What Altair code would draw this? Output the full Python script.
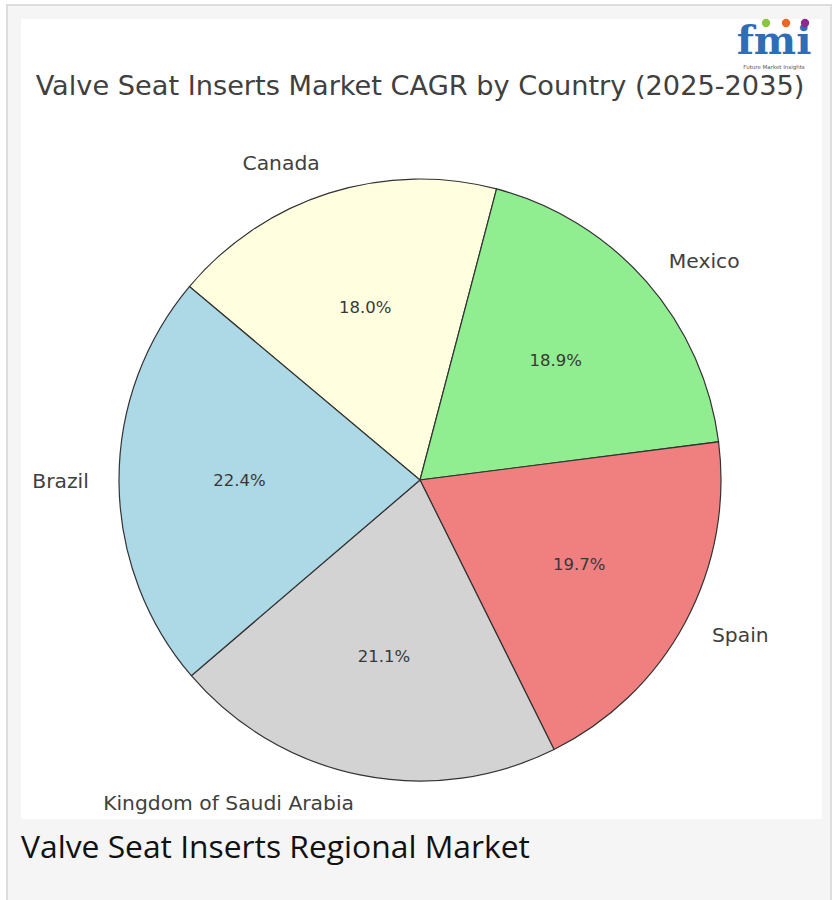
import math
import altair as alt
import pandas as pd

countries = ["Canada", "Mexico", "Spain", "Kingdom of Saudi Arabia", "Brazil"]
shares = [18.0, 18.9, 19.7, 21.1, 22.4]
colors = ["#FFFFE0", "#90EE90", "#F08080", "#D3D3D3", "#ADD8E6"]
title_text = "Valve Seat Inserts Market CAGR by Country (2025-2035)"
caption_text = "Valve Seat Inserts Regional Market"

W, H = 838, 900
CX, CY, R = 420, 480, 301
START = math.radians(310)  # first wedge starts here (clockwise from 12 o'clock)

df = pd.DataFrame({"country": countries, "share": shares, "ord": list(range(len(countries)))})
one = pd.DataFrame({"a": [0]})

base = alt.Chart(df).transform_joinaggregate(
    total="sum(share)"
).transform_window(
    cum="sum(share)", sort=[alt.SortField("ord")], frame=[None, 0]
).transform_calculate(
    mid=f"(datum.cum - datum.share/2)/datum.total*2*PI + {START}",
    pct="format(datum.share, '.1f') + '%'",
).transform_calculate(
    left_lab="sin(datum.mid) < 0 ? datum.country : ''",
    right_lab="sin(datum.mid) >= 0 ? datum.country : ''",
)

theta = alt.Theta("share:Q", stack=True,
                  scale=alt.Scale(range=[START, START + 2 * math.pi]))
order = alt.Order("ord:Q", sort="ascending")
pos = dict(x=alt.value(CX), y=alt.value(CY))

arcs = base.mark_arc(radius=R, stroke="#333333", strokeWidth=1.2).encode(
    theta=theta, order=order,
    color=alt.Color("country:N", scale=alt.Scale(domain=countries, range=colors), legend=None),
    **pos,
)

pct = base.mark_text(radius=R * 0.6, font="DejaVu Sans", fontSize=16.5, color="#383838").encode(
    theta=theta, order=order, text="pct:N", **pos)

lab_l = base.mark_text(radius=R * 1.1, font="DejaVu Sans", fontSize=20.3, color="#404040",
                       align="right", baseline="middle").encode(
    theta=theta, order=order, text="left_lab:N", **pos)
lab_r = base.mark_text(radius=R * 1.1, font="DejaVu Sans", fontSize=20.3, color="#404040",
                       align="left", baseline="middle").encode(
    theta=theta, order=order, text="right_lab:N", **pos)

frame = alt.Chart(one).mark_rect(fill="#f5f5f5", stroke="#dddddd", strokeWidth=2).encode(
    x=alt.value(7), x2=alt.value(831), y=alt.value(5), y2=alt.value(910))
panel = alt.Chart(one).mark_rect(fill="#ffffff").encode(
    x=alt.value(21), x2=alt.value(822), y=alt.value(19), y2=alt.value(819))

title = alt.Chart(one).mark_text(font="DejaVu Sans", fontSize=27.2, color="#404040",
                                 align="center", baseline="middle").encode(
    x=alt.value(420), y=alt.value(87), text=alt.value(title_text))
caption = alt.Chart(one).mark_text(font="Open Sans", fontSize=31.8, color="#111111",
                                   align="left", baseline="alphabetic").encode(
    x=alt.value(21), y=alt.value(858), text=alt.value(caption_text))

logo = alt.Chart(one).mark_text(font="DejaVu Serif", fontSize=40, fontWeight="bold",
                                color="#2f6db5", align="center", baseline="alphabetic").encode(
    x=alt.value(774), y=alt.value(54), text=alt.value("fmi"))
logo_sub = alt.Chart(one).mark_text(font="DejaVu Sans", fontSize=5.5, color="#555555",
                                    align="center", baseline="top").encode(
    x=alt.value(774), y=alt.value(65), text=alt.value("Future Market Insights"))
dots = alt.Chart(pd.DataFrame({"c": ["#8cc63f", "#f26522", "#93278f"], "xx": [766, 786, 805]})).mark_point(
    filled=True, size=70, opacity=1).encode(
    x=alt.X("xx:Q", scale=alt.Scale(domain=[0, W], range=[0, W]), axis=None),
    y=alt.value(23), color=alt.Color("c:N", scale=None))

chart = alt.layer(frame, panel, arcs, pct, lab_l, lab_r, title, caption, logo, logo_sub, dots).properties(
    width=W, height=H, padding=0, autosize=alt.AutoSizeParams(type="none"), background="#ffffff"
).configure_view(stroke=None)

chart.save("out.html", embed_options={"renderer": "svg", "actions": False})
